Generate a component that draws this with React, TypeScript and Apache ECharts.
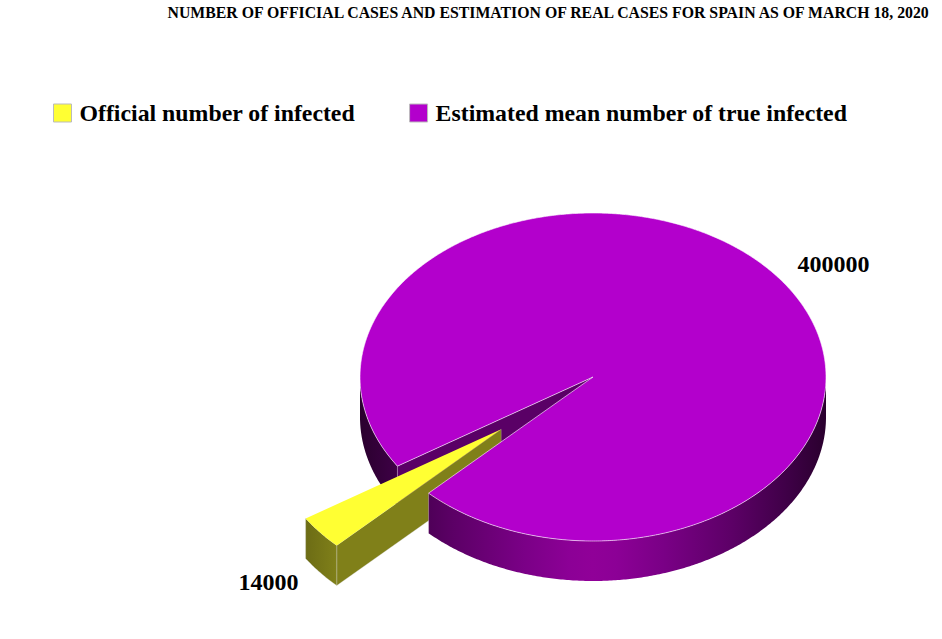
import React, { useEffect, useRef } from "react";
import * as echarts from "echarts";

const titleText = "NUMBER OF OFFICIAL CASES AND ESTIMATION OF REAL CASES FOR SPAIN AS OF MARCH 18, 2020";
const categories = ["Official number of infected", "Estimated mean number of true infected"];
const values = [14000, 400000];
const topColors = ["#FFFF33", "#B300CC"];

const SERIF = '"Liberation Serif", "Times New Roman", serif';
const CX = 593, CY = 377, RX = 233, RY = 164, DEPTH = 40;
const FIRST_ANGLE = 134.9;
const EXPLODE = 0.507;

const total = values.reduce((a, b) => a + b, 0);
const yellowSweep = (values[0] / total) * 360;
const A0 = FIRST_ANGLE, A1 = FIRST_ANGLE + yellowSweep;

const pt = (deg: number, ox = 0, oy = 0, dz = 0): number[] => {
  const r = (deg * Math.PI) / 180;
  return [CX + ox + RX * Math.cos(r), CY + oy + dz + RY * Math.sin(r)];
};
const arc = (a: number, b: number, ox = 0, oy = 0, dz = 0): number[][] => {
  const out: number[][] = [];
  const n = Math.max(2, Math.ceil(Math.abs(b - a) * 2));
  for (let i = 0; i <= n; i++) out.push(pt(a + ((b - a) * i) / n, ox, oy, dz));
  return out;
};
const rim = (a: number, b: number, ox = 0, oy = 0) => [...arc(a, b, ox, oy), ...arc(b, a, ox, oy, DEPTH)];
const poly = (points: number[][], style: any) => ({ type: "polygon", shape: { points }, style });

const gradient = (x0: number, x1: number, stops: [number, string][]) => ({
  type: "linear", x: x0, y: 0, x2: x1, y2: 0, global: true,
  colorStops: stops.map(([offset, color]) => ({ offset, color })),
});
const purpleRim = gradient(CX - RX, CX + RX, [
  [0, "#2a002e"], [0.08, "#3e0046"], [0.2, "#5c0066"], [0.35, "#7a0086"], [0.45, "#8c0096"], [0.5, "#900098"], [0.55, "#8c0096"],
  [0.65, "#7a0086"], [0.8, "#5c0066"], [0.92, "#3e0046"], [1, "#2a002e"],
]);
const EDGE = "rgba(255,255,255,0.6)";
const SIDE_EDGE = "rgba(210,210,210,0.3)";
const labelFont = `bold 24px ${SERIF}`;

const renderPurpleBack = (_p: any, api: any) => {
  const a1 = A0 + ((api.value(0) as number) >= 0 ? yellowSweep : 0);
  const edge = pt(a1);
  return {
    type: "group",
    children: [
      poly(rim(a1, 180), { fill: purpleRim }),
      poly([[CX, CY], edge, [edge[0], edge[1] + DEPTH], [CX, CY + DEPTH]], { fill: "#5A0066" }),
      { type: "line", shape: { x1: edge[0], y1: edge[1], x2: edge[0], y2: edge[1] + DEPTH }, style: { stroke: "rgba(255,255,255,0.25)", lineWidth: 1 } },
    ],
  };
};

const renderYellow = (_p: any, api: any) => {
  const sweep = ((api.value(0) as number) / total) * 360;
  const a0 = A0, a1 = A0 + sweep;
  const mid = ((a0 + a1) / 2) * (Math.PI / 180);
  const ox = RX * EXPLODE * Math.cos(mid), oy = RY * EXPLODE * Math.sin(mid);
  const apex = [CX + ox, CY + oy];
  const e0 = pt(a0, ox, oy);
  const olive = gradient(pt(a1, ox, oy)[0], e0[0], [[0, "#6c6c15"], [1, "#808019"]]);
  return {
    type: "group",
    children: [
      poly([apex, e0, [e0[0], e0[1] + DEPTH], [apex[0], apex[1] + DEPTH]], { fill: "#808019", stroke: SIDE_EDGE, lineWidth: 1 }),
      poly(rim(a0, a1, ox, oy), { fill: olive, stroke: SIDE_EDGE, lineWidth: 1 }),
      poly([apex, ...arc(a0, a1, ox, oy)], { fill: topColors[0] }),
      { type: "text", style: { text: String(api.value(0)), x: 268.5, y: 582, align: "center", verticalAlign: "middle", font: labelFont, fill: "#000" } },
    ],
  };
};

const renderPurpleFront = (_p: any, api: any) => {
  const sweep = ((api.value(0) as number) / total) * 360;
  const a1 = A1 + sweep; // ends back at FIRST_ANGLE + 360
  const a0End = a1 - 360;
  const start = pt(a0End);
  return {
    type: "group",
    children: [
      poly(rim(0, a0End), { fill: purpleRim }),
      { type: "line", shape: { x1: start[0], y1: start[1], x2: start[0], y2: start[1] + DEPTH }, style: { stroke: "rgba(255,255,255,0.3)", lineWidth: 1 } },
      poly([[CX, CY], ...arc(A1, a1)], { fill: topColors[1], stroke: EDGE, lineWidth: 1 }),
      { type: "text", style: { text: String(api.value(0)), x: 833.5, y: 264, align: "center", verticalAlign: "middle", font: labelFont, fill: "#000" } },
    ],
  };
};

export default function App() {
  const ref = useRef<HTMLDivElement>(null);
  useEffect(() => {
    document.body.style.margin = "0";
    const chart = echarts.init(ref.current!, null, { renderer: "svg" });
    chart.setOption({
      animation: false,
      backgroundColor: "#fff",
      title: {
        text: titleText, right: 3, top: -1,
        textStyle: { fontFamily: SERIF, fontSize: 15.8, fontWeight: "bold", color: "#000" },
      },
      legend: {
        left: 48, top: 96, itemWidth: 18, itemHeight: 18, itemGap: 54,
        icon: "rect", selectedMode: false,
        textStyle: { fontFamily: SERIF, fontSize: 23.8, fontWeight: "bold", color: "#000", padding: [0, 0, 0, 3] },
        data: categories.map((name, i) => ({
          name, itemStyle: { color: topColors[i], borderColor: "#bbb", borderWidth: 1 },
        })),
      },
      series: [
        { type: "custom", name: categories[1], coordinateSystem: "none", silent: true, itemStyle: { color: topColors[1] }, data: [[values[1]]], renderItem: renderPurpleBack },
        { type: "custom", name: categories[0], coordinateSystem: "none", silent: true, itemStyle: { color: topColors[0] }, data: [[values[0]]], renderItem: renderYellow },
        { type: "custom", name: categories[1], coordinateSystem: "none", silent: true, itemStyle: { color: topColors[1] }, data: [[values[1]]], renderItem: renderPurpleFront },
      ],
    });
    return () => chart.dispose();
  }, []);
  return <div ref={ref} style={{ width: 942, height: 639 }} />;
}
